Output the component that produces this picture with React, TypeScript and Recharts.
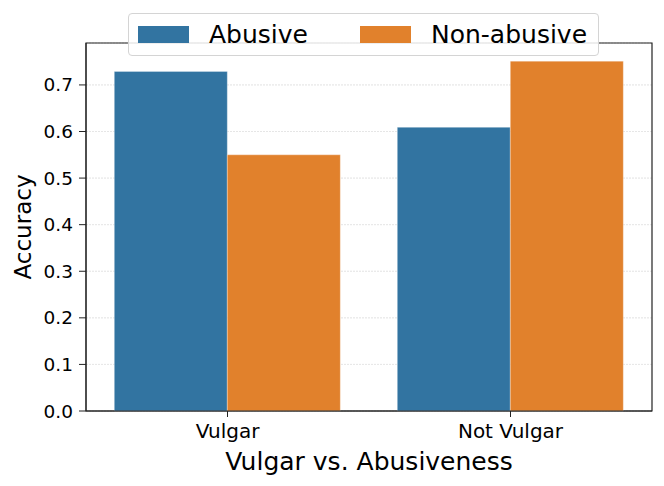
import React from 'react';
import {
  BarChart, Bar, XAxis, YAxis, CartesianGrid, Legend, ReferenceArea,
} from 'recharts';

const categories = ['Vulgar', 'Not Vulgar'];
const abusive = [0.729, 0.609];
const nonAbusive = [0.55, 0.751];
const yTicks = [0, 0.1, 0.2, 0.3, 0.4, 0.5, 0.6, 0.7];

const data = categories.map((name, i) => ({
  name,
  abusive: abusive[i],
  nonAbusive: nonAbusive[i],
}));

const FONT = '"DejaVu Sans", sans-serif';
const BLUE = '#3274a1';
const ORANGE = '#e1812c';
const SPINE = '#222222';

const LegendBox = ({ payload }: any) => (
  <div
    style={{
      width: 469,
      height: 41,
      border: '1px solid #d4d4d4',
      borderRadius: 4,
      background: 'rgba(255,255,255,0.85)',
      position: 'relative',
      fontFamily: FONT,
      fontSize: 25,
      color: '#000',
    }}
  >
    {(payload || []).map((p: any, i: number) => (
      <div
        key={p.value}
        style={{
          position: 'absolute',
          left: i === 0 ? 9 : 231,
          top: 0,
          height: 41,
          display: 'flex',
          alignItems: 'center',
        }}
      >
        <span style={{ display: 'inline-block', width: 51, height: 17, background: p.color, marginRight: 20 }} />
        <span style={{ lineHeight: '41px' }}>{p.value}</span>
      </div>
    ))}
  </div>
);

export default function App() {
  return (
    <div style={{ position: 'absolute', left: 0, top: 0, background: '#fff' }}>
      <BarChart
        width={664}
        height={486}
        data={data}
        margin={{ top: 43, right: 12, bottom: 0, left: 0 }}
        barCategoryGap="10%"
        barGap={0}
        style={{ fontFamily: FONT }}
      >
        <CartesianGrid horizontal vertical={false} stroke="#c8c8c8" strokeOpacity={0.6} strokeDasharray="2 1" />
        <XAxis
          dataKey="name"
          height={75}
          tickSize={6}
          tickMargin={7}
          stroke={SPINE}
          tick={{ fill: '#000', fontSize: 20, fontFamily: FONT }}
          label={{ value: 'Vulgar vs. Abusiveness', position: 'insideBottom', offset: 16, fill: '#000', fontSize: 25, fontFamily: FONT }}
        />
        <YAxis
          width={86}
          domain={[0, 0.79]}
          ticks={yTicks}
          tickFormatter={(v: number) => v.toFixed(1)}
          tickSize={7}
          tickMargin={6}
          stroke={SPINE}
          tick={{ fill: '#000', fontSize: 18.5, fontFamily: FONT }}
          label={{ value: 'Accuracy', angle: -90, position: 'insideLeft', offset: 23, fill: '#000', fontSize: 23, fontFamily: FONT, style: { textAnchor: 'middle' } }}
        />
        <Legend
          verticalAlign="middle"
          align="center"
          content={<LegendBox />}
          wrapperStyle={{ position: 'absolute', left: 128, top: 13, width: 471 }}
        />
        <Bar dataKey="abusive" name="Abusive" fill={BLUE} stroke="#ffffff" strokeOpacity={0.3} isAnimationActive={false} />
        <Bar dataKey="nonAbusive" name="Non-abusive" fill={ORANGE} stroke="#ffffff" strokeOpacity={0.3} isAnimationActive={false} />
        <CartesianGrid horizontal vertical={false} stroke="#ffffff" strokeOpacity={0.25} strokeDasharray="2 1" />
        <ReferenceArea y1={0} y2={0.79} fill="none" fillOpacity={0} stroke={SPINE} strokeWidth={1.2} ifOverflow="extendDomain" />
      </BarChart>
    </div>
  );
}
